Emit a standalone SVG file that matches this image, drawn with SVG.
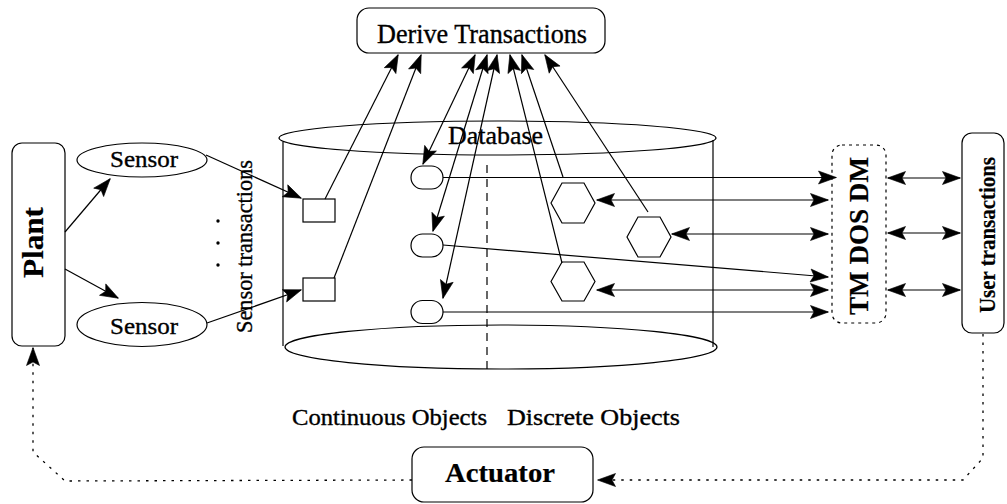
<svg xmlns="http://www.w3.org/2000/svg" width="1007" height="504" viewBox="0 0 1007 504">
  <defs>
    <marker id="head" markerUnits="userSpaceOnUse" viewBox="-20 -8 21 16" markerWidth="21" markerHeight="16" refX="0" refY="0" orient="auto-start-reverse">
      <path d="M0.5,0 L-17.5,-6.5 L-14,0 L-17.5,6.5 Z" fill="#000" stroke="#000" stroke-width="0.6" stroke-linejoin="miter"/>
    </marker>
    <style>
      .shape { fill: none; stroke: #000; stroke-width: 1.2; }
      .line { fill: none; stroke: #000; stroke-width: 1.2; }
      .one { marker-end: url(#head); }
      .two { marker-start: url(#head); marker-end: url(#head); }
      .dot { fill: none; stroke: #000; stroke-width: 1.3; stroke-dasharray: 2.5 6; }
      .txt { font-family: "Liberation Serif", "Times New Roman", serif; fill: #000; text-anchor: middle; stroke: #000; stroke-width: 0.35; }
      .b { font-weight: bold; stroke-width: 0.2; }
    </style>
  </defs>
  <rect width="1007" height="504" fill="#fff"/>

  <!-- database cylinder -->
  <g id="database">
    <ellipse class="shape" cx="497.5" cy="138" rx="218.5" ry="17"/>
    <ellipse class="shape" cx="501" cy="347" rx="216" ry="22"/>
    <line class="line" x1="283" y1="142" x2="283" y2="346"/>
    <line class="line" x1="713" y1="140" x2="713" y2="347"/>
    <line class="line" x1="487" y1="165" x2="487" y2="369" stroke-dasharray="8 6"/>
    <text class="txt" x="495.5" y="144" font-size="25" textLength="95" lengthAdjust="spacingAndGlyphs">Database</text>
  </g>

  <g id="plant">
    <rect class="shape" x="12" y="143" width="53" height="203" rx="10"/>
    <text class="txt b" transform="translate(43,242.5) rotate(-90)" font-size="29" textLength="71" lengthAdjust="spacingAndGlyphs">Plant</text>
  </g>

  <g id="sensor-top">
    <ellipse class="shape" cx="142" cy="160" rx="65" ry="17"/>
    <text class="txt" x="144" y="167" font-size="24" textLength="68" lengthAdjust="spacingAndGlyphs">Sensor</text>
  </g>
  <g id="sensor-bottom">
    <ellipse class="shape" cx="142" cy="324.5" rx="65" ry="22"/>
    <text class="txt" x="144" y="334" font-size="24" textLength="68" lengthAdjust="spacingAndGlyphs">Sensor</text>
  </g>

  <g id="sensor-dots">
    <circle cx="218" cy="221" r="1.7" fill="#000"/>
    <circle cx="218" cy="243" r="1.7" fill="#000"/>
    <circle cx="218" cy="265" r="1.7" fill="#000"/>
  </g>
  <g id="sensor-transactions-label">
    <text class="txt" transform="translate(252,246.5) rotate(-90)" font-size="24" textLength="173" lengthAdjust="spacingAndGlyphs">Sensor transactions</text>
  </g>

  <g id="sensor-item-1"><rect class="shape" x="303" y="199" width="32" height="23"/></g>
  <g id="sensor-item-2"><rect class="shape" x="303" y="278" width="32" height="23"/></g>

  <g id="continuous-1"><rect class="shape" x="411" y="166" width="32" height="23" rx="11.5"/></g>
  <g id="continuous-2"><rect class="shape" x="411" y="234" width="32" height="23" rx="11.5"/></g>
  <g id="continuous-3"><rect class="shape" x="411" y="300.5" width="32" height="23" rx="11.5"/></g>

  <g id="discrete-1"><polygon class="shape" points="551,203 562,183 584,183 595,203 584,223 562,223"/></g>
  <g id="discrete-2"><polygon class="shape" points="627,237 638,217 660,217 671,237 660,257 638,257"/></g>
  <g id="discrete-3"><polygon class="shape" points="551,281.5 562,262 584,262 595,281.5 584,301 562,301"/></g>

  <g id="derive">
    <rect class="shape" x="357" y="8" width="248" height="45" rx="12"/>
    <text class="txt" x="482" y="43" font-size="27" textLength="210" lengthAdjust="spacingAndGlyphs">Derive Transactions</text>
  </g>

  <g id="managers">
    <rect class="shape" x="832" y="145" width="54" height="178" rx="10" stroke-dasharray="3 4"/>
    <text class="txt b" transform="translate(868,236) rotate(-90)" font-size="28" textLength="158" lengthAdjust="spacingAndGlyphs">TM DOS  DM</text>
  </g>

  <g id="user">
    <rect class="shape" x="962" y="133" width="42" height="200" rx="10"/>
    <text class="txt b" transform="translate(995,235) rotate(-90)" font-size="23" textLength="156" lengthAdjust="spacingAndGlyphs">User transactions</text>
  </g>

  <g id="actuator">
    <rect class="shape" x="412" y="447" width="181" height="55" rx="12"/>
    <text class="txt b" x="500" y="482" font-size="28" textLength="110" lengthAdjust="spacingAndGlyphs">Actuator</text>
  </g>

  <g id="object-labels">
    <text class="txt" x="389.5" y="425" font-size="23" textLength="195" lengthAdjust="spacingAndGlyphs">Continuous Objects</text>
    <text class="txt" x="593.5" y="425" font-size="23" textLength="173" lengthAdjust="spacingAndGlyphs">Discrete Objects</text>
  </g>

  <!-- connectors -->
  <g id="connectors">
    <!-- plant to sensors -->
    <line class="line one" x1="65" y1="232" x2="110" y2="179"/>
    <line class="line one" x1="65" y1="269" x2="118" y2="298"/>
    <!-- sensors to sensor items -->
    <line class="line one" x1="206" y1="155" x2="301" y2="198"/>
    <line class="line one" x1="207" y1="323" x2="301" y2="290"/>
    <!-- sensor items up to derive -->
    <line class="line one" x1="325" y1="199" x2="398" y2="55"/>
    <line class="line one" x1="334" y1="278" x2="421" y2="55"/>
    <!-- derive to and from continuous objects -->
    <line class="line two" x1="475" y1="55" x2="423" y2="164"/>
    <line class="line two" x1="487" y1="55" x2="433" y2="231"/>
    <line class="line two" x1="497" y1="55" x2="443" y2="298"/>
    <!-- discrete objects up to derive -->
    <line class="line one" x1="562" y1="263" x2="510" y2="55"/>
    <line class="line one" x1="563" y1="177" x2="522" y2="55"/>
    <line class="line one" x1="648" y1="212" x2="545" y2="55"/>
    <!-- objects to managers -->
    <line class="line one" x1="443" y1="177.5" x2="836" y2="177.5"/>
    <line class="line two" x1="597" y1="200" x2="828" y2="200"/>
    <line class="line two" x1="672" y1="234" x2="828" y2="234"/>
    <line class="line one" x1="443" y1="245" x2="828" y2="277"/>
    <line class="line two" x1="597" y1="290" x2="828" y2="290"/>
    <line class="line one" x1="443" y1="312" x2="828" y2="312"/>
    <!-- managers to user transactions -->
    <line class="line two" x1="888" y1="178" x2="960" y2="178"/>
    <line class="line two" x1="888" y1="233" x2="960" y2="233"/>
    <line class="line two" x1="888" y1="290" x2="960" y2="290"/>
    <!-- feedback loop -->
    <path class="dot one" d="M983,334 L983,458 L963,480 L598,480"/>
    <path class="dot one" d="M412,480 L65,481 L33,452 L33,348"/>
  </g>
</svg>
